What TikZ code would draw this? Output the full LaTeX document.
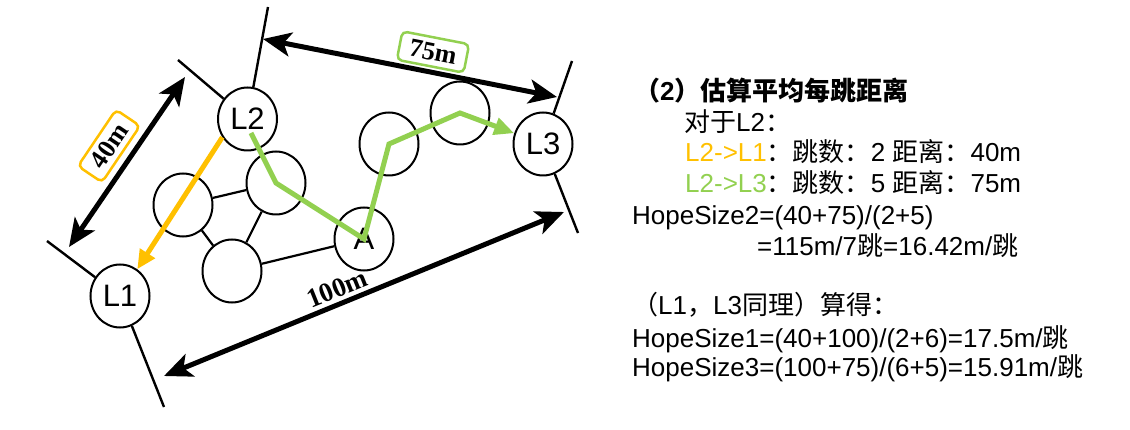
\documentclass[tikz,border=0pt]{standalone}
\usepackage{fontspec}
\setmainfont{Liberation Sans}
\newfontfamily\cjk{Noto Sans CJK SC}
\newfontfamily\labserif{Liberation Serif}
\usetikzlibrary{shapes.geometric,arrows.meta}
\definecolor{pporange}{RGB}{255,192,0}
\definecolor{ppgreen}{RGB}{146,208,80}
\newcommand{\zh}[1]{{\cjk #1}}
\begin{document}
\begin{tikzpicture}[x=1pt,y=-1pt,
  hop/.style={ellipse,draw=black,line width=2pt,fill=white,minimum width=59pt,minimum height=63pt,inner sep=0pt,font=\fontsize{31}{31}\selectfont},
  link/.style={line width=2.2pt,black},
  tick/.style={line width=2.4pt,black},
  dim/.style={line width=5pt,black,{Stealth[length=28pt,width=24pt,inset=7pt]}-{Stealth[length=28pt,width=24pt,inset=7pt]}},
  dimlab/.style={font=\labserif\bfseries\fontsize{27}{27}\selectfont,inner sep=0pt},
  labbox/.style={rounded corners=5pt,line width=2.5pt,minimum width=68pt,minimum height=29pt,inner sep=0pt,font=\labserif\bfseries\fontsize{26}{26}\selectfont},
  greenpath/.style={line width=5pt,ppgreen,-{Triangle[length=20pt,width=17pt]}},
  orangepath/.style={line width=5pt,pporange,-{Triangle[length=19pt,width=17pt]}},
  txt/.style={anchor=base west,inner sep=0pt,font=\fontsize{26}{26}\selectfont}
]
\useasboundingbox (0,0) rectangle (1130,430);

% hop nodes
\node[hop] (L1) at (120,296) {L1};
\node[hop] (L2) at (247.5,119) {L2};
\node[hop] (L3) at (543,144) {L3};
\node[hop] (A)  at (364,239) {A};
\node[hop] (C1) at (183,205) {};
\node[hop] (C2) at (276,183) {};
\node[hop] (C3) at (232,271) {};
\node[hop] (C4) at (389,144) {};
\node[hop] (C5) at (460,113) {};

% links between hops
\draw[link] (C1) -- (C2);
\draw[link] (C1) -- (C3);
\draw[link] (C2) -- (C3);
\draw[link] (C3) -- (A);

% extension ticks
\coordinate (t1) at (178,60);
\coordinate (t2) at (268,7);
\coordinate (t3) at (47,241);
\coordinate (t4) at (164,407);
\coordinate (t5) at (572,61);
\coordinate (t6) at (578,233);
\draw[tick] (t1) -- (L2);
\draw[tick] (t2) -- (L2);
\draw[tick] (t3) -- (L1);
\draw[tick] (t4) -- (L1);
\draw[tick] (t5) -- (L3);
\draw[tick] (t6) -- (L3);

% dimension arrows
\coordinate (d40a) at (69,247);
\coordinate (d40b) at (185,77);
\coordinate (d75a) at (263,39);
\coordinate (d75b) at (557,97);
\coordinate (d100a) at (164,376);
\coordinate (d100b) at (564,212);
\draw[dim] (d40a) -- (d40b);
\draw[dim] (d75a) -- (d75b);
\draw[dim] (d100a) -- (d100b);

\node[labbox,draw=pporange,rotate=56] (lab40) at (109,146) {40m};
\node[labbox,draw=ppgreen,rotate=-11] (lab75) at (433,52) {75m};
\node[dimlab,rotate=22] (lab100) at (337,289) {100m};

% hop paths
\coordinate (g0) at (251,133);
\draw[greenpath] (g0) -- (C2.center) -- (A.center) -- (C4.center) -- (C5.center) -- (L3);
\draw[orangepath] (L2.216) -- (L1);

% text
\node[txt,font=\bfseries\fontsize{26}{26}\selectfont] (t0) at (634,101) {\zh{（}2\zh{）估算平均每跳距离}};
\node[txt] (tl1) at (684,132) {\zh{对于}L2\zh{：}};
\node[txt] (tl2) at (685,162) {\textcolor{pporange}{L2->L1}\zh{：跳数：}2 \zh{距离：}40m};
\node[txt] (tl3) at (685,193) {\textcolor{ppgreen}{L2->L3}\zh{：跳数：}5 \zh{距离：}75m};
\node[txt] (tl4) at (632,225) {HopeSize2=(40+75)/(2+5)};
\node[txt] (tl5) at (757,256) {=115m/7\zh{跳}=16.42m/\zh{跳}};
\node[txt] (tl6) at (632,315) {\zh{（}L1\zh{，}L3\zh{同理）算得：}};
\node[txt] (tl7) at (632,348) {HopeSize1=(40+100)/(2+6)=17.5m/\zh{跳}};
\node[txt] (tl8) at (632,377) {HopeSize3=(100+75)/(6+5)=15.91m/\zh{跳}};
\end{tikzpicture}
\end{document}
